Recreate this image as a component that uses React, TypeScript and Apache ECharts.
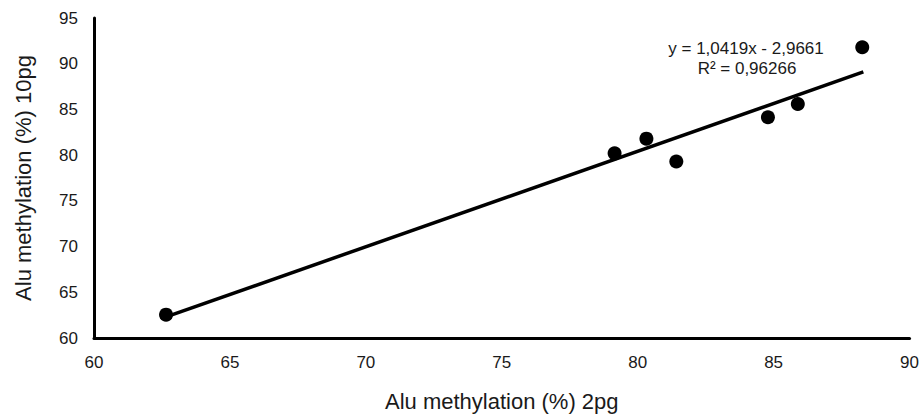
import React, { useEffect, useRef } from "react";
import * as echarts from "echarts";

const xValues = [62.65, 79.15, 80.32, 81.42, 84.79, 85.89, 88.26];
const yValues = [62.55, 80.2, 81.8, 79.3, 84.15, 85.6, 91.8];
const trendStart = [62.65, 62.3];
const trendEnd = [88.3, 89.1];
const equationText = "y = 1,0419x - 2,9661";
const r2Text = "R² = 0,96266";
const xTitle = "Alu methylation (%) 2pg";
const yTitle = "Alu methylation (%) 10pg";

export default function App() {
  const ref = useRef<HTMLDivElement>(null);
  useEffect(() => {
    if (!ref.current) return;
    const chart = echarts.init(ref.current, null, { renderer: "svg" });
    const font = "Liberation Sans, Arial, sans-serif";
    chart.setOption({
      animation: false,
      backgroundColor: "#ffffff",
      textStyle: { fontFamily: font },
      grid: { left: 94, right: 12, top: 18, bottom: 74 },
      xAxis: {
        type: "value",
        min: 60,
        max: 90,
        interval: 5,
        splitLine: { show: false },
        axisTick: { show: false },
        axisLine: { show: true, onZero: false, lineStyle: { color: "#000", width: 3 } },
        axisLabel: { color: "#1a1a1a", fontSize: 17, margin: 16, fontFamily: font },
        name: xTitle,
        nameLocation: "middle",
        nameGap: 52,
        nameTextStyle: { color: "#1a1a1a", fontSize: 22, fontFamily: font },
      },
      yAxis: {
        type: "value",
        min: 60,
        max: 95,
        interval: 5,
        splitLine: { show: false },
        axisTick: { show: false },
        axisLine: { show: true, onZero: false, lineStyle: { color: "#000", width: 3 } },
        axisLabel: { color: "#1a1a1a", fontSize: 17, margin: 16, fontFamily: font, padding: [9, 0, 0, 0] },
        name: yTitle,
        nameLocation: "middle",
        nameGap: 60,
        nameTextStyle: { color: "#1a1a1a", fontSize: 22, fontFamily: font },
      },
      series: [
        {
          type: "line",
          data: [trendStart, trendEnd],
          showSymbol: false,
          symbol: "none",
          lineStyle: { color: "#000", width: 3.5 },
          z: 2,
        },
        {
          type: "scatter",
          data: xValues.map((x, i) => [x, yValues[i]]),
          symbol: "circle",
          symbolSize: 14,
          itemStyle: { color: "#000", opacity: 1 },
          z: 3,
        },
      ],
      graphic: [
        {
          type: "text",
          x: 746,
          y: 48,
          style: {
            text: equationText,
            fill: "#1a1a1a",
            font: `17px ${font}`,
            align: "center",
            verticalAlign: "middle",
          },
        },
        {
          type: "text",
          x: 747,
          y: 68,
          style: {
            text: r2Text,
            fill: "#1a1a1a",
            font: `17px ${font}`,
            align: "center",
            verticalAlign: "middle",
          },
        },
      ],
    });
    return () => chart.dispose();
  }, []);
  return <div ref={ref} style={{ width: 922, height: 417, position: "absolute", left: 0, top: 0 }} />;
}
